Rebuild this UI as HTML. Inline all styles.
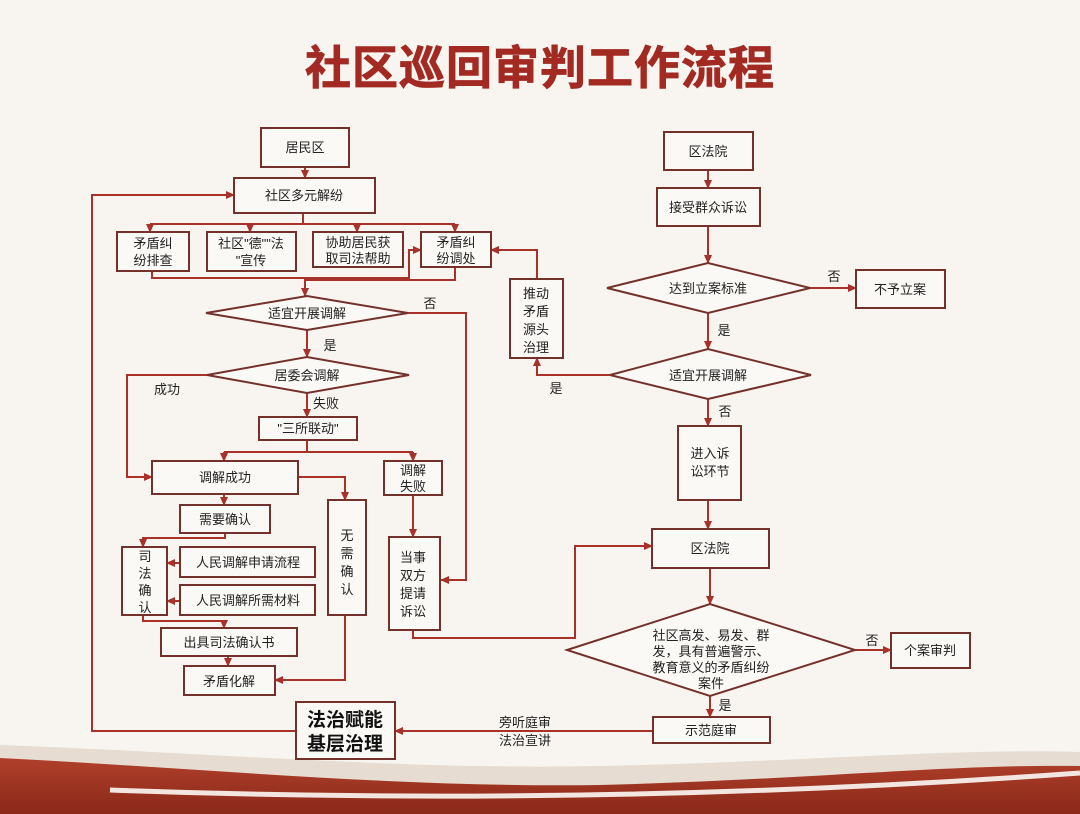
<!DOCTYPE html>
<html><head><meta charset="utf-8"><style>
html,body{margin:0;padding:0;background:#f7f3ee;}
svg{display:block;font-family:"Liberation Sans","Noto Sans CJK SC",sans-serif;}
</style></head><body>
<svg width="1080" height="814" viewBox="0 0 1080 814" xmlns="http://www.w3.org/2000/svg">
<defs>
<marker id="a" markerWidth="10" markerHeight="10" refX="8" refY="5" orient="auto" markerUnits="userSpaceOnUse">
<path d="M0,1 L9,5 L0,9 Z" fill="#a8322a"/></marker>
<linearGradient id="g" x1="0" y1="0" x2="0" y2="1"><stop offset="0" stop-color="#b0402c"/><stop offset="1" stop-color="#8a2818"/></linearGradient>
</defs>
<rect width="1080" height="814" fill="#f8f5f0"/>
<path d="M0,745 C200,752 400,770 600,766 C800,762 950,748 1080,752 L1080,814 L0,814 Z" fill="#e6dcd2"/>
<path d="M0,758 C200,768 400,788 600,785 C800,780 950,764 1080,766 L1080,814 L0,814 Z" fill="url(#g)"/>
<path d="M110,790 Q600,808 1080,773" fill="none" stroke="#f3e6e0" stroke-width="5"/>
<text x="540" y="84" text-anchor="middle" font-size="46" font-weight="bold" fill="#a22a22" stroke="#a22a22" stroke-width="0.8" letter-spacing="1">社区巡回审判工作流程</text>

<g fill="none" stroke="#a8322a" stroke-width="2">
<path d="M305,167 V178" marker-end="url(#a)"/>
<path d="M303,213 V224 M150,224 H455"/>
<path d="M150,224 V232" marker-end="url(#a)"/><path d="M250,224 V232" marker-end="url(#a)"/>
<path d="M357,224 V232" marker-end="url(#a)"/><path d="M455,224 V232" marker-end="url(#a)"/>
<path d="M152,271 V278 H409 V250 H421" marker-end="url(#a)"/>
<path d="M455,267 V280 H305 V296" marker-end="url(#a)"/>
<path d="M408,313 H466 V580 H441" marker-end="url(#a)"/>
<path d="M307,330 V357" marker-end="url(#a)"/>
<path d="M207,375 H127 V477 H152" marker-end="url(#a)"/>
<path d="M307,393 V417" marker-end="url(#a)"/>
<path d="M307,440 V452 M224,452 H413"/>
<path d="M224,452 V461" marker-end="url(#a)"/><path d="M413,452 V461" marker-end="url(#a)"/>
<path d="M298,477 H345 V500" marker-end="url(#a)"/>
<path d="M224,494 V505" marker-end="url(#a)"/>
<path d="M225,534 V538 H143 V547" marker-end="url(#a)"/>
<path d="M180,563 H167" marker-end="url(#a)"/><path d="M180,601 H167" marker-end="url(#a)"/>
<path d="M143,615 V621 H224 V628" marker-end="url(#a)"/>
<path d="M228,656 V666" marker-end="url(#a)"/>
<path d="M345,615 V680 H275" marker-end="url(#a)"/>
<path d="M413,495 V537" marker-end="url(#a)"/>
<path d="M413,630 V638 H575 V546 H652" marker-end="url(#a)"/>
<path d="M296,731 H92 V195 H234" marker-end="url(#a)"/>
<path d="M653,731 H395" marker-end="url(#a)"/>
<path d="M708,170 V188" marker-end="url(#a)"/>
<path d="M708,226 V263" marker-end="url(#a)"/>
<path d="M810,288 H856" marker-end="url(#a)"/>
<path d="M708,313 V349" marker-end="url(#a)"/>
<path d="M610,375 H537 V358" marker-end="url(#a)"/>
<path d="M537,279 V250 H491" marker-end="url(#a)"/>
<path d="M708,399 V426" marker-end="url(#a)"/>
<path d="M708,500 V529" marker-end="url(#a)"/>
<path d="M710,568 V604" marker-end="url(#a)"/>
<path d="M855,650 H891" marker-end="url(#a)"/>
<path d="M710,696 V717" marker-end="url(#a)"/>
</g>

<g fill="#fbf9f6" stroke="#74302a" stroke-width="2">
<rect x="261" y="128" width="88" height="39"/>
<rect x="234" y="178" width="141" height="35"/>
<rect x="117" y="232" width="72" height="39"/>
<rect x="207" y="232" width="89" height="39"/>
<rect x="313" y="232" width="90" height="35"/>
<rect x="421" y="232" width="70" height="35"/>
<polygon points="206,313 307,296 408,313 307,330"/>
<polygon points="207,375 307,357 409,375 307,393"/>
<rect x="259" y="417" width="98" height="23"/>
<rect x="152" y="461" width="146" height="33"/>
<rect x="384" y="461" width="58" height="34"/>
<rect x="328" y="500" width="38" height="115"/>
<rect x="180" y="505" width="90" height="28"/>
<rect x="122" y="547" width="45" height="68"/>
<rect x="180" y="547" width="135" height="30"/>
<rect x="180" y="585" width="135" height="30"/>
<rect x="161" y="628" width="136" height="28"/>
<rect x="184" y="666" width="91" height="29"/>
<rect x="389" y="537" width="51" height="93"/>
<rect x="296" y="702" width="99" height="57"/>
<rect x="664" y="132" width="89" height="38"/>
<rect x="657" y="188" width="103" height="38"/>
<polygon points="607,288 708,263 810,288 708,313"/>
<rect x="856" y="270" width="89" height="38"/>
<polygon points="610,375 708,349 811,375 708,399"/>
<rect x="510" y="279" width="53" height="79"/>
<rect x="678" y="426" width="63" height="74"/>
<rect x="652" y="529" width="117" height="39"/>
<polygon points="567,650 710,604 855,650 710,696"/>
<rect x="891" y="633" width="79" height="35"/>
<rect x="653" y="717" width="117" height="26"/>
</g>

<g font-size="13" fill="#222" text-anchor="middle">
<text x="305" y="152">居民区</text>
<text x="304" y="200">社区多元解纷</text>
<text x="153" y="248">矛盾纠</text><text x="153" y="265">纷排查</text>
<text x="251" y="248">社区"德""法</text><text x="251" y="265">"宣传</text>
<text x="358" y="247">协助居民获</text><text x="358" y="263">取司法帮助</text>
<text x="456" y="247">矛盾纠</text><text x="456" y="263">纷调处</text>
<text x="307" y="318">适宜开展调解</text>
<text x="430" y="308">否</text>
<text x="330" y="350">是</text>
<text x="307" y="380">居委会调解</text>
<text x="167" y="394">成功</text>
<text x="326" y="408">失败</text>
<text x="308" y="433">"三所联动"</text>
<text x="225" y="482">调解成功</text>
<text x="413" y="475">调解</text><text x="413" y="491">失败</text>
<text x="225" y="524">需要确认</text>
<text x="347" y="540">无</text><text x="347" y="558">需</text><text x="347" y="576">确</text><text x="347" y="594">认</text>
<text x="145" y="561">司</text><text x="145" y="578">法</text><text x="145" y="595">确</text><text x="145" y="612">认</text>
<text x="248" y="567">人民调解申请流程</text>
<text x="248" y="605">人民调解所需材料</text>
<text x="229" y="647">出具司法确认书</text>
<text x="229" y="686">矛盾化解</text>
<text x="413" y="562">当事</text><text x="413" y="580">双方</text><text x="413" y="598">提请</text><text x="413" y="616">诉讼</text>
<text x="345" y="726" font-size="19" font-weight="bold" fill="#111">法治赋能</text>
<text x="345" y="750" font-size="19" font-weight="bold" fill="#111">基层治理</text>
<text x="525" y="727">旁听庭审</text><text x="525" y="745">法治宣讲</text>
<text x="708" y="156">区法院</text>
<text x="708" y="212">接受群众诉讼</text>
<text x="708" y="293">达到立案标准</text>
<text x="834" y="281">否</text>
<text x="900" y="294">不予立案</text>
<text x="724" y="335">是</text>
<text x="708" y="380">适宜开展调解</text>
<text x="556" y="393">是</text>
<text x="536" y="298">推动</text><text x="536" y="316">矛盾</text><text x="536" y="334">源头</text><text x="536" y="352">治理</text>
<text x="725" y="416">否</text>
<text x="710" y="458">进入诉</text><text x="710" y="476">讼环节</text>
<text x="710" y="553">区法院</text>
<text x="711" y="640">社区高发、易发、群</text>
<text x="711" y="656">发，具有普遍警示、</text>
<text x="711" y="672">教育意义的矛盾纠纷</text>
<text x="711" y="688">案件</text>
<text x="872" y="645">否</text>
<text x="930" y="655">个案审判</text>
<text x="725" y="710">是</text>
<text x="711" y="735">示范庭审</text>
</g>
</svg>
</body></html>
